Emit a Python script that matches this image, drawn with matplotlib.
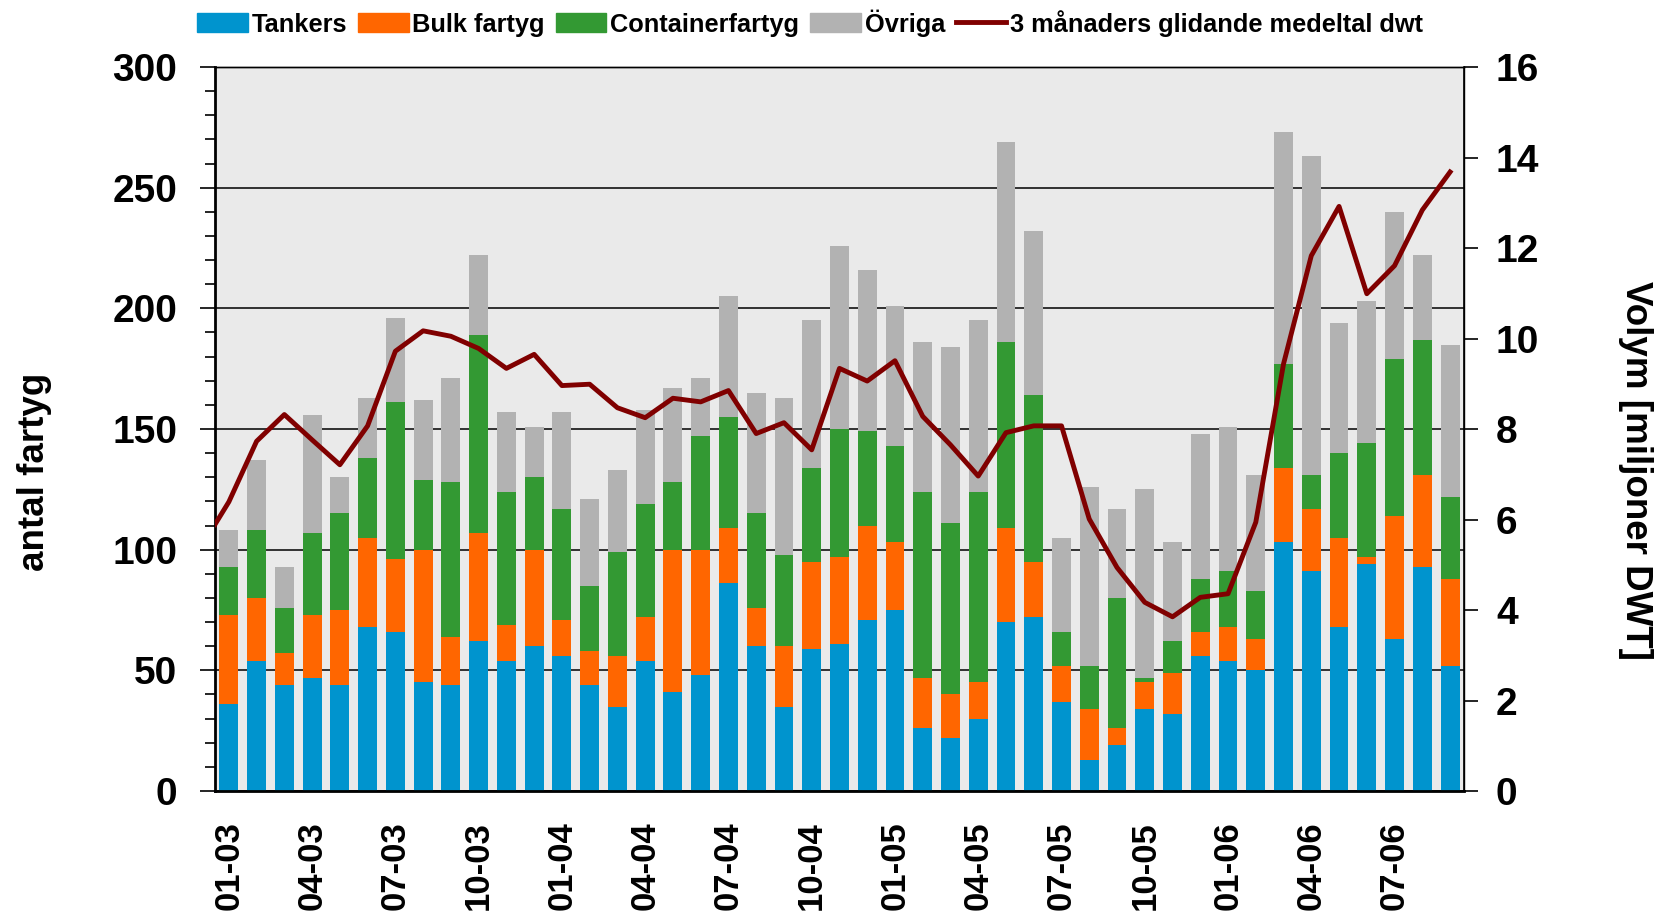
import numpy as np
import matplotlib
matplotlib.use('Agg')
import matplotlib.pyplot as plt
from matplotlib.ticker import MultipleLocator
from matplotlib.patches import Patch
from matplotlib.lines import Line2D

plt.rcParams['font.family'] = ['Liberation Sans', 'DejaVu Sans']

# monthly values 01-03 .. 09-06, number of ships per type
months = ['%02d-%02d' % (m, y) for y in (3, 4, 5, 6) for m in range(1, 13)][:45]

tankers = [36, 54, 44, 47, 44, 68, 66, 45, 44, 62,
           54, 60, 56, 44, 35, 54, 41, 48, 86, 60,
           35, 59, 61, 71, 75, 26, 22, 30, 70, 72,
           37, 13, 19, 34, 32, 56, 54, 50, 103, 91,
           68, 94, 63, 93, 52]
bulk = [37, 26, 13, 26, 31, 37, 30, 55, 20, 45,
        15, 40, 15, 14, 21, 18, 59, 52, 23, 16,
        25, 36, 36, 39, 28, 21, 18, 15, 39, 23,
        15, 21, 7, 11, 17, 10, 14, 13, 31, 26,
        37, 3, 51, 38, 36]
container = [20, 28, 19, 34, 40, 33, 65, 29, 64, 82,
             55, 30, 46, 27, 43, 47, 28, 47, 46, 39,
             38, 39, 53, 39, 40, 77, 71, 79, 77, 69,
             14, 18, 54, 2, 13, 22, 23, 20, 43, 14,
             35, 47, 65, 56, 34]
ovriga = [15, 29, 17, 49, 15, 25, 35, 33, 43, 33,
          33, 21, 40, 36, 34, 39, 39, 24, 50, 50,
          65, 61, 76, 67, 58, 62, 73, 71, 83, 68,
          39, 74, 37, 78, 41, 60, 60, 48, 96, 132,
          54, 59, 61, 35, 63]

# 3 month moving average dwt (million), first value is where the line leaves the axis
dwt_start = 5.89
dwt = [6.39, 7.73, 8.32, 7.76, 7.21, 8.07, 9.72, 10.17, 10.05, 9.78,
       9.34, 9.65, 8.96, 8.99, 8.47, 8.25, 8.68, 8.60, 8.85, 7.90,
       8.14, 7.54, 9.34, 9.06, 9.51, 8.28, 7.65, 6.96, 7.92, 8.07,
       8.07, 6.01, 4.94, 4.17, 3.85, 4.28, 4.36, 5.94, 9.44, 11.83,
       12.92, 10.99, 11.61, 12.84, 13.68]

c_tank = '#0094CE'
c_bulk = '#FF6600'
c_cont = '#339933'
c_ovr = '#B2B2B2'
c_line = '#800000'

fig = plt.figure(figsize=(16.6, 9.13), dpi=100)
ax = fig.add_axes([0.1295, 0.1336, 0.7524, 0.793])
ax.set_facecolor('#EAEAEA')

x = np.arange(len(months))
w = 0.68
b1 = np.array(tankers)
b2 = b1 + np.array(bulk)
b3 = b2 + np.array(container)
ax.bar(x, tankers, w, color=c_tank, zorder=2)
ax.bar(x, bulk, w, bottom=b1, color=c_bulk, zorder=2)
ax.bar(x, container, w, bottom=b2, color=c_cont, zorder=2)
ax.bar(x, ovriga, w, bottom=b3, color=c_ovr, zorder=2)

ax.set_xlim(-0.5, len(months) - 0.5)
ax.set_ylim(0, 300)
ax.yaxis.set_major_locator(MultipleLocator(50))
ax.yaxis.set_minor_locator(MultipleLocator(10))
ax.grid(axis='y', which='major', color='black', lw=1.1, zorder=1)
ax.set_axisbelow(True)

ax.set_xticks(x[::3])
ax.set_xticklabels(months[::3], rotation=90, fontsize=25, fontweight='bold')
ax.tick_params(axis='x', length=0, pad=22)
ax.tick_params(axis='y', which='major', length=11, width=1.2, pad=16,
               labelsize=28)
ax.tick_params(axis='y', which='minor', length=7, width=1.2)
for t in ax.get_yticklabels():
    t.set_fontweight('bold')

ax.spines['left'].set_linewidth(2)
ax.spines['bottom'].set_linewidth(2)
ax.spines['top'].set_linewidth(1)
ax.spines['right'].set_linewidth(1)

ax2 = ax.twinx()
lx = np.concatenate([[-0.5], x])
ax2.plot(lx, [dwt_start] + dwt, color=c_line, lw=3.5, zorder=3)
ax2.set_ylim(0, 16)
ax2.yaxis.set_major_locator(MultipleLocator(2))
ax2.tick_params(axis='y', length=10, width=1.2, pad=13, labelsize=28)
for t in ax2.get_yticklabels():
    t.set_fontweight('bold')
ax2.spines['right'].set_linewidth(1.2)
ax2.spines['left'].set_visible(False)
ax2.spines['top'].set_linewidth(1)

fig.text(0.021, 0.483, 'antal fartyg', rotation=90, ha='center', va='center',
         fontsize=26.5, fontweight='bold')
fig.text(0.9855, 0.485, 'Volym [miljoner DWT]', rotation=270, ha='center',
         va='center', fontsize=26.5, fontweight='bold')

handles = [Patch(color=c_tank), Patch(color=c_bulk), Patch(color=c_cont),
           Patch(color=c_ovr), Line2D([], [], color=c_line, lw=3.5)]
labels = ['Tankers', 'Bulk fartyg', 'Containerfartyg', 'Övriga',
          '3 månaders glidande medeltal dwt']
fig.legend(handles, labels, loc='center', bbox_to_anchor=(0.488, 0.975),
           ncol=5, frameon=False, prop={'size': 18.3, 'weight': 'bold'},
           handlelength=2.0, handleheight=0.75, handletextpad=0.15,
           columnspacing=0.42, borderaxespad=0)

fig.savefig('out.png', dpi=100)
